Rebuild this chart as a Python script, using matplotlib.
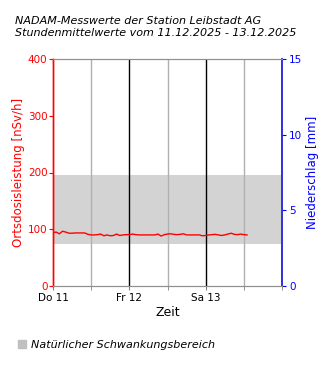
#!/usr/bin/env python3
"""NADAM hourly dose rate, Leibstadt, 11.-13.12.2025."""

import matplotlib

matplotlib.use("Agg")
import matplotlib.pyplot as plt
from matplotlib.patches import Patch
import numpy as np

# hourly mean values starting Do 11.12.2025 00:00
dose_nsvh = [
    94, 95, 92, 96.5, 95, 93, 93, 93.5, 93.5, 93.5, 93.5, 91,
    90, 90, 90.5, 91.5, 88.5, 90, 88.5, 89, 91.5, 89, 90, 90.5,
    90.5, 91.5, 90.5, 90, 90, 90, 90, 90, 90, 91.5, 88, 90.5,
    91.5, 92, 91, 90.5, 91, 92, 90, 90, 90, 90, 90, 88.5,
    89, 90, 90.5, 91, 90, 89, 90, 91.5, 93, 91, 90.5, 91.5,
    90.5, 90,
]
band_low, band_high = 74, 196
day_labels = ["Do 11", "Fr 12", "Sa 13"]

plt.rcParams["font.family"] = "DejaVu Sans"

fig = plt.figure(figsize=(3.3, 3.7), dpi=100)
ax = fig.add_axes([53 / 330, 84 / 370, 229 / 330, 227 / 370])
ax2 = ax.twinx()

hours = np.arange(len(dose_nsvh)) / 24.0

ax.axhspan(band_low, band_high, color="#d3d3d3", zorder=0, lw=0)
for d in [0.5, 1.5, 2.5]:
    ax.axvline(d, color="#b0b0b0", lw=1, zorder=1)
for d in [1, 2]:
    ax.axvline(d, color="black", lw=1, zorder=1)
ax.plot(hours, dose_nsvh, color="red", lw=1, zorder=3)

ax.set_xlim(0, 3)
ax.set_ylim(0, 400)
ax.set_yticks([0, 100, 200, 300, 400])
ax.set_xticks([0, 1, 2])
ax.set_xticklabels(day_labels)
ax.set_xticks([0.5, 1.5, 2.5, 3], minor=True)
ax.tick_params(axis="y", colors="red", labelsize=7.5, length=3, width=0.8, pad=1)
ax.tick_params(axis="x", which="both", colors="#808080", labelcolor="black",
               labelsize=7.5, length=3, pad=2)
ax.set_ylabel("Ortsdosisleistung [nSv/h]", color="red", fontsize=8.5, labelpad=2)
ax.set_xlabel("Zeit", fontsize=9, labelpad=2)

ax2.set_ylim(0, 15)
ax2.set_yticks([0, 5, 10, 15])
ax2.tick_params(axis="y", colors="blue", labelsize=7.5, length=3, width=0.8, pad=2)
ax2.set_ylabel("Niederschlag [mm]", color="blue", fontsize=8.5, labelpad=3)

for a in (ax, ax2):
    a.spines["top"].set_color("#909090")
    a.spines["bottom"].set_color("#909090")
    a.spines["left"].set_color("red")
    a.spines["right"].set_color("#3030e0")
    a.spines["left"].set_linewidth(1.0)
    a.spines["right"].set_linewidth(1.2)

fig.text(15 / 330, 1 - 27 / 370,
         "NADAM-Messwerte der Station Leibstadt AG\n"
         "Stundenmittelwerte vom 11.12.2025 - 13.12.2025",
         fontsize=8, style="italic", va="center", ha="left", linespacing=1.15)

fig.legend(handles=[Patch(color="#c0c0c0", label="Natürlicher Schwankungsbereich")],
           loc="center left", bbox_to_anchor=(8 / 330, 1 - 345 / 370),
           frameon=False, prop={"style": "italic", "size": 8},
           handlelength=0.7, handleheight=0.7, handletextpad=0.5)

fig.savefig("out.png", dpi=100)
